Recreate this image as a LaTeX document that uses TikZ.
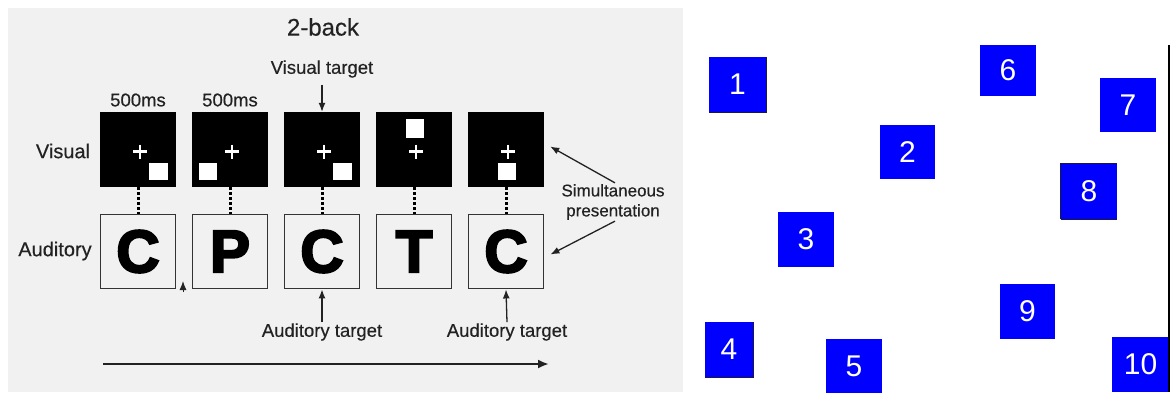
\documentclass[tikz,border=0pt]{standalone}
\usepackage{fontspec}
\setmainfont{Liberation Sans}
\newfontfamily\heavyfont[BoldFeatures={FakeBold=3.6}]{Liberation Sans}
\newfontfamily\labelfont[FakeBold=0.4]{Liberation Sans}
\usetikzlibrary{arrows.meta,calc}
\definecolor{panelgray}{HTML}{F1F1F1}
\definecolor{inkgray}{HTML}{222222}
\definecolor{tilegray}{HTML}{333333}
\definecolor{pureblue}{RGB}{0,0,255}
\definecolor{tileedge}{HTML}{1A1A40}
\begin{document}
\begin{tikzpicture}[x=1pt,y=-1pt,
  lbl/.style={text=inkgray,inner sep=1pt,font=\labelfont\fontsize{18.5}{20}\selectfont},
  rowlbl/.style={lbl,font=\labelfont\fontsize{20}{22}\selectfont},
  vbox/.style={fill=black,minimum width=76pt,minimum height=75pt,inner sep=0pt},
  abox/.style={draw=tilegray,line width=1.9pt,minimum width=75pt,minimum height=74pt,inner sep=0pt,
    font=\heavyfont\bfseries\fontsize{60}{60}\selectfont},
  arr/.style={draw=inkgray,line width=1.3pt,-{Latex[length=9pt,width=7pt]}},
  dotlink/.style={draw=black,line width=3pt,dash pattern=on 2.5pt off 2.5pt},
  crossmark/.style={draw=white,line width=2.6pt},
  spot/.style={fill=white},
  numtile/.style={fill=pureblue,text=white,inner sep=0pt,font=\fontsize{30}{30}\selectfont},
  tileline/.style={draw=tileedge,line width=1.2pt}]
\useasboundingbox (0,0) rectangle (1170,392);
\clip (0,0) rectangle (1170,392);
\fill[white] (0,0) rectangle (1170,392);

% ---- 2-back task panel ----
\fill[panelgray] (8,8) rectangle (683,392);
\node[lbl,font=\labelfont\fontsize{24}{26}\selectfont] (title) at (323,27) {2-back};

% visual stream
\foreach \i/\x in {1/138,2/230,3/322,4/414,5/506}{
  \node[vbox] (v\i) at (\x,149.5) {};
}
% fixation crosses
\foreach \i in {1,...,5}{
  \draw[crossmark] ($(v\i.center)+(-5,2)$) -- ($(v\i.center)+(9,2)$);
  \draw[crossmark] ($(v\i.center)+(2,-5)$) -- ($(v\i.center)+(2,9)$);
}
% location squares
\fill[spot] ($(v1.center)+(11,13)$) rectangle ($(v1.center)+(30,30)$);
\fill[spot] ($(v2.center)+(-31,13)$) rectangle ($(v2.center)+(-13,30)$);
\fill[spot] ($(v3.center)+(11,13)$) rectangle ($(v3.center)+(30,30)$);
\fill[spot] ($(v4.center)+(-8,-31)$) rectangle ($(v4.center)+(10,-12)$);
\fill[spot] ($(v5.center)+(-8,13)$) rectangle ($(v5.center)+(10,30)$);

% auditory stream
\foreach \i/\x/\l in {1/138/C,2/230/P,3/322/C,4/414/T,5/506/C}{
  \node[abox] (a\i) at (\x,251.5) {\l};
  \draw[dotlink] (v\i.south) -- (a\i.north);
}

% row labels and durations
\node[rowlbl] (vis) at (63,151) {Visual};
\node[rowlbl] (aud) at (55,251) {Auditory};
\node[lbl] (d1) at (138,100) {500ms};
\node[lbl] (d2) at (230,100) {500ms};

% targets
\node[lbl] (vt) at (322,69) {Visual target};
\draw[arr] ([yshift=-6pt]vt.south) -- (v3.north);
\node[lbl] (at1) at (322,332) {Auditory target};
\node[lbl] (at2) at (507,332) {Auditory target};
\draw[arr] (at1.north) -- (a3.south);
\draw[arr] (at2.north) -- (a5.south);

% small onset marker between first two letters
\coordinate (gapfoot) at (183,292);
\coordinate (gaptip) at (183,281);
\draw[arr,line width=1pt] (gapfoot) -- (gaptip);

% simultaneous presentation note
\node[lbl,align=center,font=\labelfont\fontsize{17}{20}\selectfont] (sp) at (613,202) {Simultaneous\\presentation};
\draw[arr] ([xshift=2pt]sp.north) -- ([xshift=6pt,yshift=3pt]v5.east);
\draw[arr] ([xshift=2pt]sp.south) -- ([xshift=6pt,yshift=-3pt]a5.east);

% time axis
\coordinate (t0) at (103,364);
\coordinate (t1) at (549,364);
\draw[draw=inkgray,line width=2.2pt,-{Latex[length=11pt,width=9pt]}] (t0) -- (t1);

% ---- numbered tiles ----
\node[numtile,minimum width=57pt,minimum height=55pt] (n1) at (737.5,84.5) {1};
\node[numtile,minimum width=55pt,minimum height=54pt] (n2) at (907.5,152) {2};
\node[numtile,minimum width=56pt,minimum height=55pt] (n3) at (806,239.5) {3};
\node[numtile,minimum width=48pt,minimum height=55pt] (n4) at (729,349.5) {4};
\node[numtile,minimum width=56pt,minimum height=55pt] (n5) at (854,366.5) {5};
\node[numtile,minimum width=56pt,minimum height=51pt] (n6) at (1008,70.5) {6};
\node[numtile,minimum width=56pt,minimum height=54pt] (n7) at (1128,105) {7};
\node[numtile,minimum width=56pt,minimum height=55pt] (n8) at (1089,191.5) {8};
\node[numtile,minimum width=55pt,minimum height=55pt] (n9) at (1027.5,311.5) {9};
\node[numtile,minimum width=57pt,minimum height=55pt] (n10) at (1140.5,364.5) {10};
% shaded tile edges
\draw[tileline] (n1.north east) -- (n1.south east) -- (n1.south west);
\draw[tileline] (n4.north east) -- (n4.south east) -- (n4.south west);
\draw[tileline] (n8.south west) -- (n8.north west) -- (n8.north east);
\draw[tileline] (n8.south west) -- (n8.south east);

% right edge rule
\coordinate (edgetop) at (1168.5,45);
\coordinate (edgebot) at (1168.5,392);
\draw[line width=2pt] (edgetop) -- (edgebot);
\end{tikzpicture}
\end{document}
